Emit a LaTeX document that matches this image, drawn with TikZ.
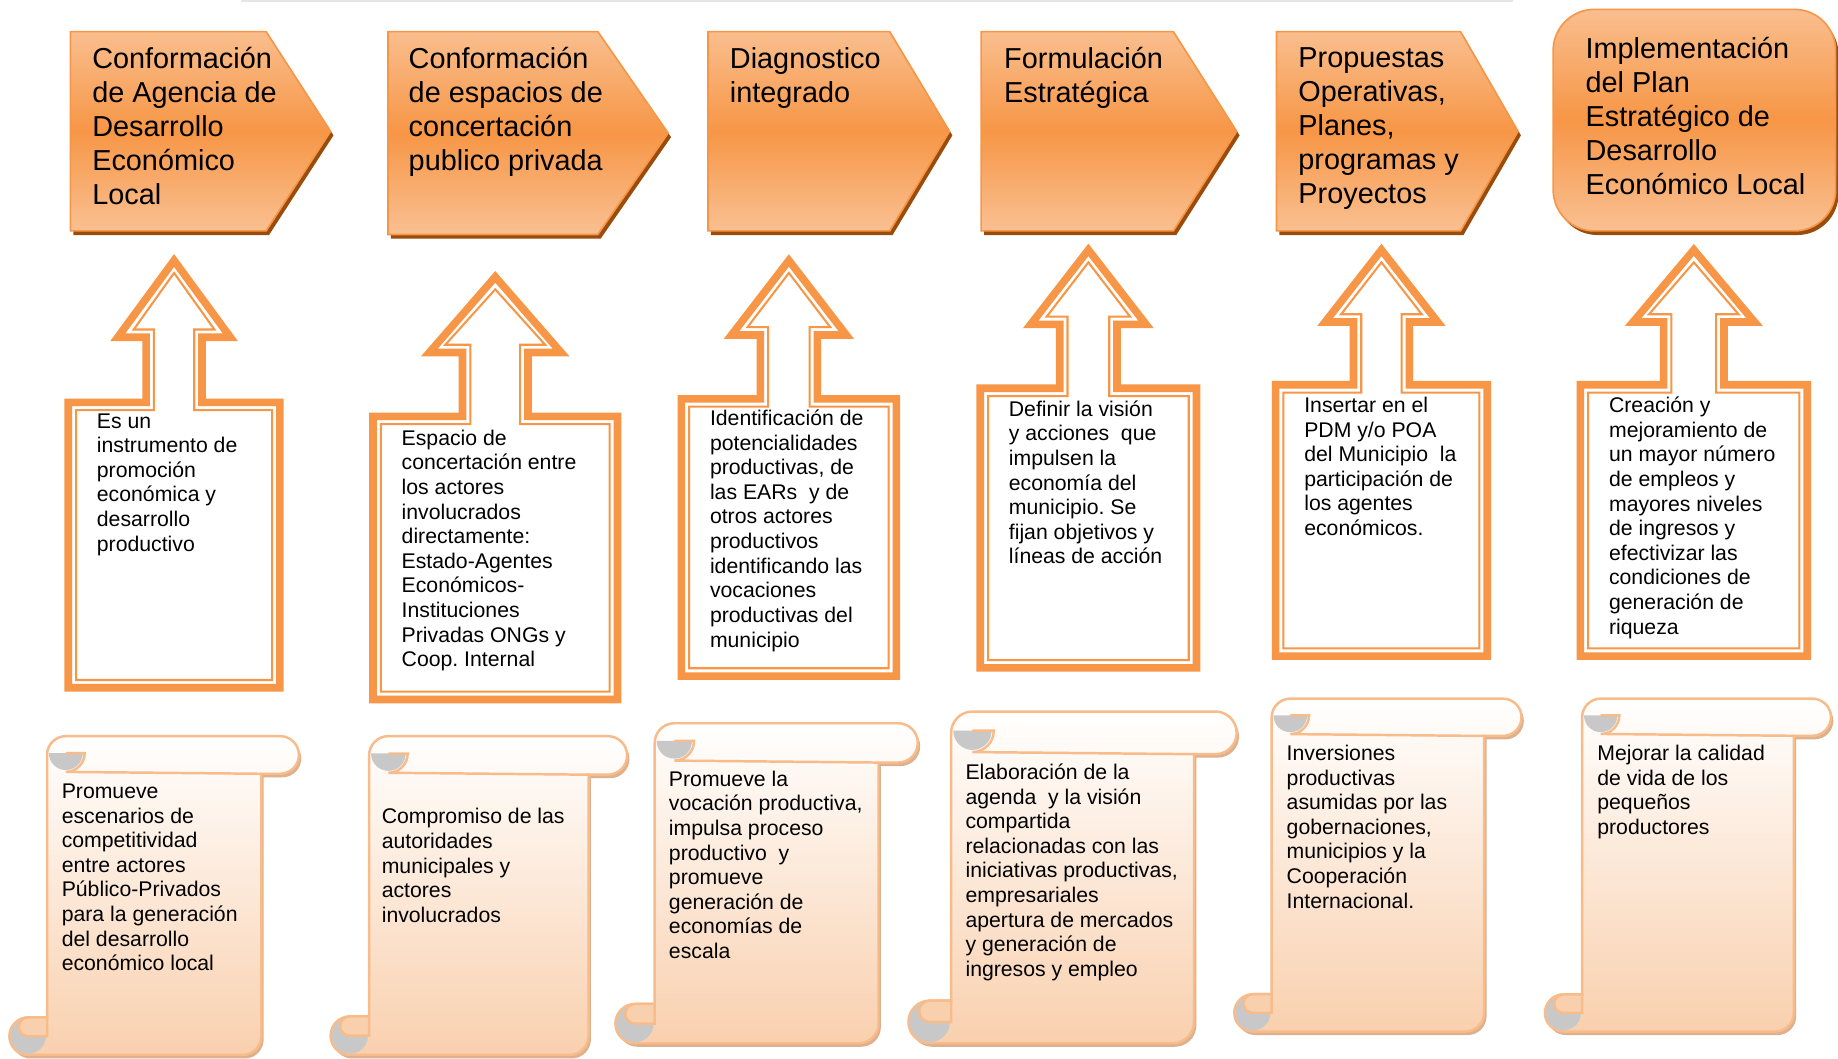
\documentclass[tikz,border=0pt]{standalone}
\usepackage{fontspec}
\setmainfont{Liberation Sans}
\frenchspacing
\usetikzlibrary{calc}
\definecolor{chevtop}{HTML}{F9BE8E}
\definecolor{chevmid}{HTML}{F79646}
\definecolor{chevbot}{HTML}{F9C092}
\definecolor{chevdark}{HTML}{9A4C0C}
\definecolor{calline}{HTML}{F79646}
\definecolor{scrollbot}{HTML}{F9D0AE}
\definecolor{scrollline}{HTML}{F8BB8A}
\definecolor{scrollshade}{HTML}{DDB08E}
\definecolor{scrollgray}{HTML}{C8C8C8}
\definecolor{topline}{HTML}{E6E6E6}

\begin{document}
\begin{tikzpicture}[x=0.01cm, y=-0.01cm,
  chev/.style={top color=chevtop, bottom color=chevbot, middle color=chevmid, draw=chevmid, line width=0.4pt},
  scroll/.style={top color=white, bottom color=scrollbot, draw=scrollline, line width=0.6pt},
  ttl/.style={anchor=north west, inner sep=0pt, align=left, font=\fontsize{7}{8.25}\selectfont},
  txt/.style={anchor=north west, inner sep=0pt, align=left, font=\fontsize{5.15}{5.97}\selectfont}]
\useasboundingbox (0,0) rectangle (1568,903);
\draw[topline, line width=0.6pt] (206,1) -- (1291,1);

% scrolls (bottom row)
\foreach \xa/\xb/\ya/\yb [evaluate=\xa as \dd using 0.13*(\xb-\xa), evaluate=\xa as \rr using 0.065*(\xb-\xa),
    evaluate=\xa as \xl using \xa+0.13*(\xb-\xa), evaluate=\xa as \xr using \xb-0.13*(\xb-\xa)]
    in {8/255/628/900, 282/535/628/900, 525/783/617/890, 775/1055/607/890, 1053/1298/596/880, 1318/1562/596/880} {
 \fill[scrollshade, shift={(2,3)}] (\xl,\yb-\dd) -- (\xl,\ya+\rr) arc[start angle=180, end angle=270, radius=\rr] -- (\xb-\rr,\ya)
   arc[start angle=270, end angle=450, radius=\rr] -- (\xr,\ya+\dd) -- (\xr,\yb-\rr) arc[start angle=0, end angle=90, radius=\rr]
   -- (\xa+\rr,\yb) arc[start angle=90, end angle=270, radius=\rr] -- cycle;
 \shade[scroll] (\xl,\yb-\dd) -- (\xl,\ya+\rr) arc[start angle=180, end angle=270, radius=\rr] -- (\xb-\rr,\ya)
   arc[start angle=270, end angle=450, radius=\rr] -- (\xr,\ya+\dd) -- (\xr,\yb-\rr) arc[start angle=0, end angle=90, radius=\rr]
   -- (\xa+\rr,\yb) arc[start angle=90, end angle=270, radius=\rr] -- cycle;
 \fill[scrollgray] (\xl+0.1*\rr,\ya+0.9*\rr) arc[start angle=180, end angle=0, radius=0.9*\rr] -- cycle;
 \draw[scrollline, line width=0.6pt] (\xl+\rr,\ya+0.9*\rr) -- (\xl+\dd,\ya+0.9*\rr) arc[start angle=0, end angle=90, radius=\rr] -- (\xr,\ya+\dd);
 \fill[scrollgray] (\xa+\rr,\yb-\rr) circle[radius=\rr-1];
 \filldraw[fill=scrollbot, draw=scrollline, line width=0.6pt] (\xl,\yb-\dd) -- (\xl,\yb-\rr) -- (\xa+\rr,\yb-\rr)
   arc[start angle=90, end angle=270, radius=0.5*\rr] -- cycle;
}

% up-arrow callouts (middle row)
\foreach \cx/\hwid/\ytip/\yhb/\ytop/\ybot [evaluate=\hwid as \headw using 0.585*\hwid, evaluate=\hwid as \shaftw using 0.29*\hwid]
    in {148.5/93.5/217/291/340/590, 422.5/107.5/231/304/352/600, 673/95/217/289/337/580,
        928.5/95.5/208/280/328/573, 1178.5/93.5/208/278/325/563, 1445/100/208/278/325/563} {
 \foreach \off/\lw/\fc/\dc in {0/0.1pt/white/none, 3.25/1.85pt/none/calline, 9.9/0.5pt/none/calline}
  \path[fill=\fc, draw=\dc, line width=\lw, line join=miter]
   (\cx-\hwid+\off,\ybot-\off) -- (\cx+\hwid-\off,\ybot-\off) -- (\cx+\hwid-\off,\ytop+\off) -- (\cx+\shaftw-\off,\ytop+\off)
   -- (\cx+\shaftw-\off,\yhb-\off) -- (\cx+\headw-2.05*\off,\yhb-\off) -- (\cx,\ytip+1.6*\off)
   -- (\cx-\headw+2.05*\off,\yhb-\off) -- (\cx-\shaftw+\off,\yhb-\off) -- (\cx-\shaftw+\off,\ytop+\off)
   -- (\cx-\hwid+\off,\ytop+\off) -- cycle;
}

% chevrons (top row)
\foreach \xl/\xr/\xp/\yb in {60/227/282/197, 331/510/570/200, 604/759/810/197, 837/1001/1055/197, 1089/1246/1295/197} {
 \fill[chevdark, shift={(2.5,3.5)}] (\xl,27) -- (\xr,27) -- (\xp,{(27+\yb)/2}) -- (\xr,\yb) -- (\xl,\yb) -- cycle;
 \shade[chev] (\xl,27) -- (\xr,27) -- (\xp,{(27+\yb)/2}) -- (\xr,\yb) -- (\xl,\yb) -- cycle;
}
\fill[chevdark, rounded corners=10pt] (1327.5,11.5) rectangle (1568.5,200.5);
\shade[chev, rounded corners=10pt] (1325,8) rectangle (1566,197);

\node[ttl] (fase1) at (78,40) {Conformación\\de Agencia de\\Desarrollo\\Económico\\Local};
\node[ttl] (fase2) at (348,40) {Conformación\\de espacios de\\concertación\\publico privada};
\node[ttl] (fase3) at (622,40) {Diagnostico\\integrado};
\node[ttl] (fase4) at (856,40) {Formulación\\Estratégica};
\node[ttl] (fase5) at (1107,40) {Propuestas\\Operativas,\\Planes,\\programas y\\Proyectos};
\node[ttl] (fase6) at (1352,31) {Implementación\\del Plan\\Estratégico de\\Desarrollo\\Económico Local};

\node[txt] (desc1) at (82,352) {Es un\\instrumento de\\promoción\\económica y\\desarrollo\\productivo};
\node[txt] (desc2) at (342,366) {Espacio de\\concertación entre\\los actores\\involucrados\\directamente:\\Estado-Agentes\\Económicos-\\Instituciones\\Privadas ONGs y\\Coop. Internal};
\node[txt] (desc3) at (605,349) {Identificación de\\potencialidades\\productivas, de\\las EARs\ \ y de\\otros actores\\productivos\\identificando las\\vocaciones\\productivas del\\municipio};
\node[txt] (desc4) at (860,341) {Definir la visión\\y acciones\ \ que\\impulsen la\\economía del\\municipio. Se\\fijan objetivos y\\líneas de acción};
\node[txt] (desc5) at (1112,338) {Insertar en el\\PDM y/o POA\\del Municipio\ \ la\\participación de\\los agentes\\económicos.};
\node[txt] (desc6) at (1372,338) {Creación y\\mejoramiento de\\un mayor número\\de empleos y\\mayores niveles\\de ingresos y\\efectivizar las\\condiciones de\\generación de\\riqueza};

\node[txt] (meta1) at (52,668) {Promueve\\escenarios de\\competitividad\\entre actores\\Público-Privados\\para la generación\\del desarrollo\\económico local};
\node[txt] (meta2) at (325,689) {Compromiso de las\\autoridades\\municipales y\\actores\\involucrados};
\node[txt] (meta3) at (570,657) {Promueve la\\vocación productiva,\\impulsa proceso\\productivo\ \ y\\promueve\\generación de\\economías de\\escala};
\node[txt] (meta4) at (823,651) {Elaboración de la\\agenda\ \ y la visión\\compartida\\relacionadas con las\\iniciativas productivas,\\empresariales\\apertura de mercados\\y generación de\\ingresos y empleo};
\node[txt] (meta5) at (1097,635) {Inversiones\\productivas\\asumidas por las\\gobernaciones,\\municipios y la\\Cooperación\\Internacional.};
\node[txt] (meta6) at (1362,635) {Mejorar la calidad\\de vida de los\\pequeños\\productores};
\end{tikzpicture}
\end{document}
